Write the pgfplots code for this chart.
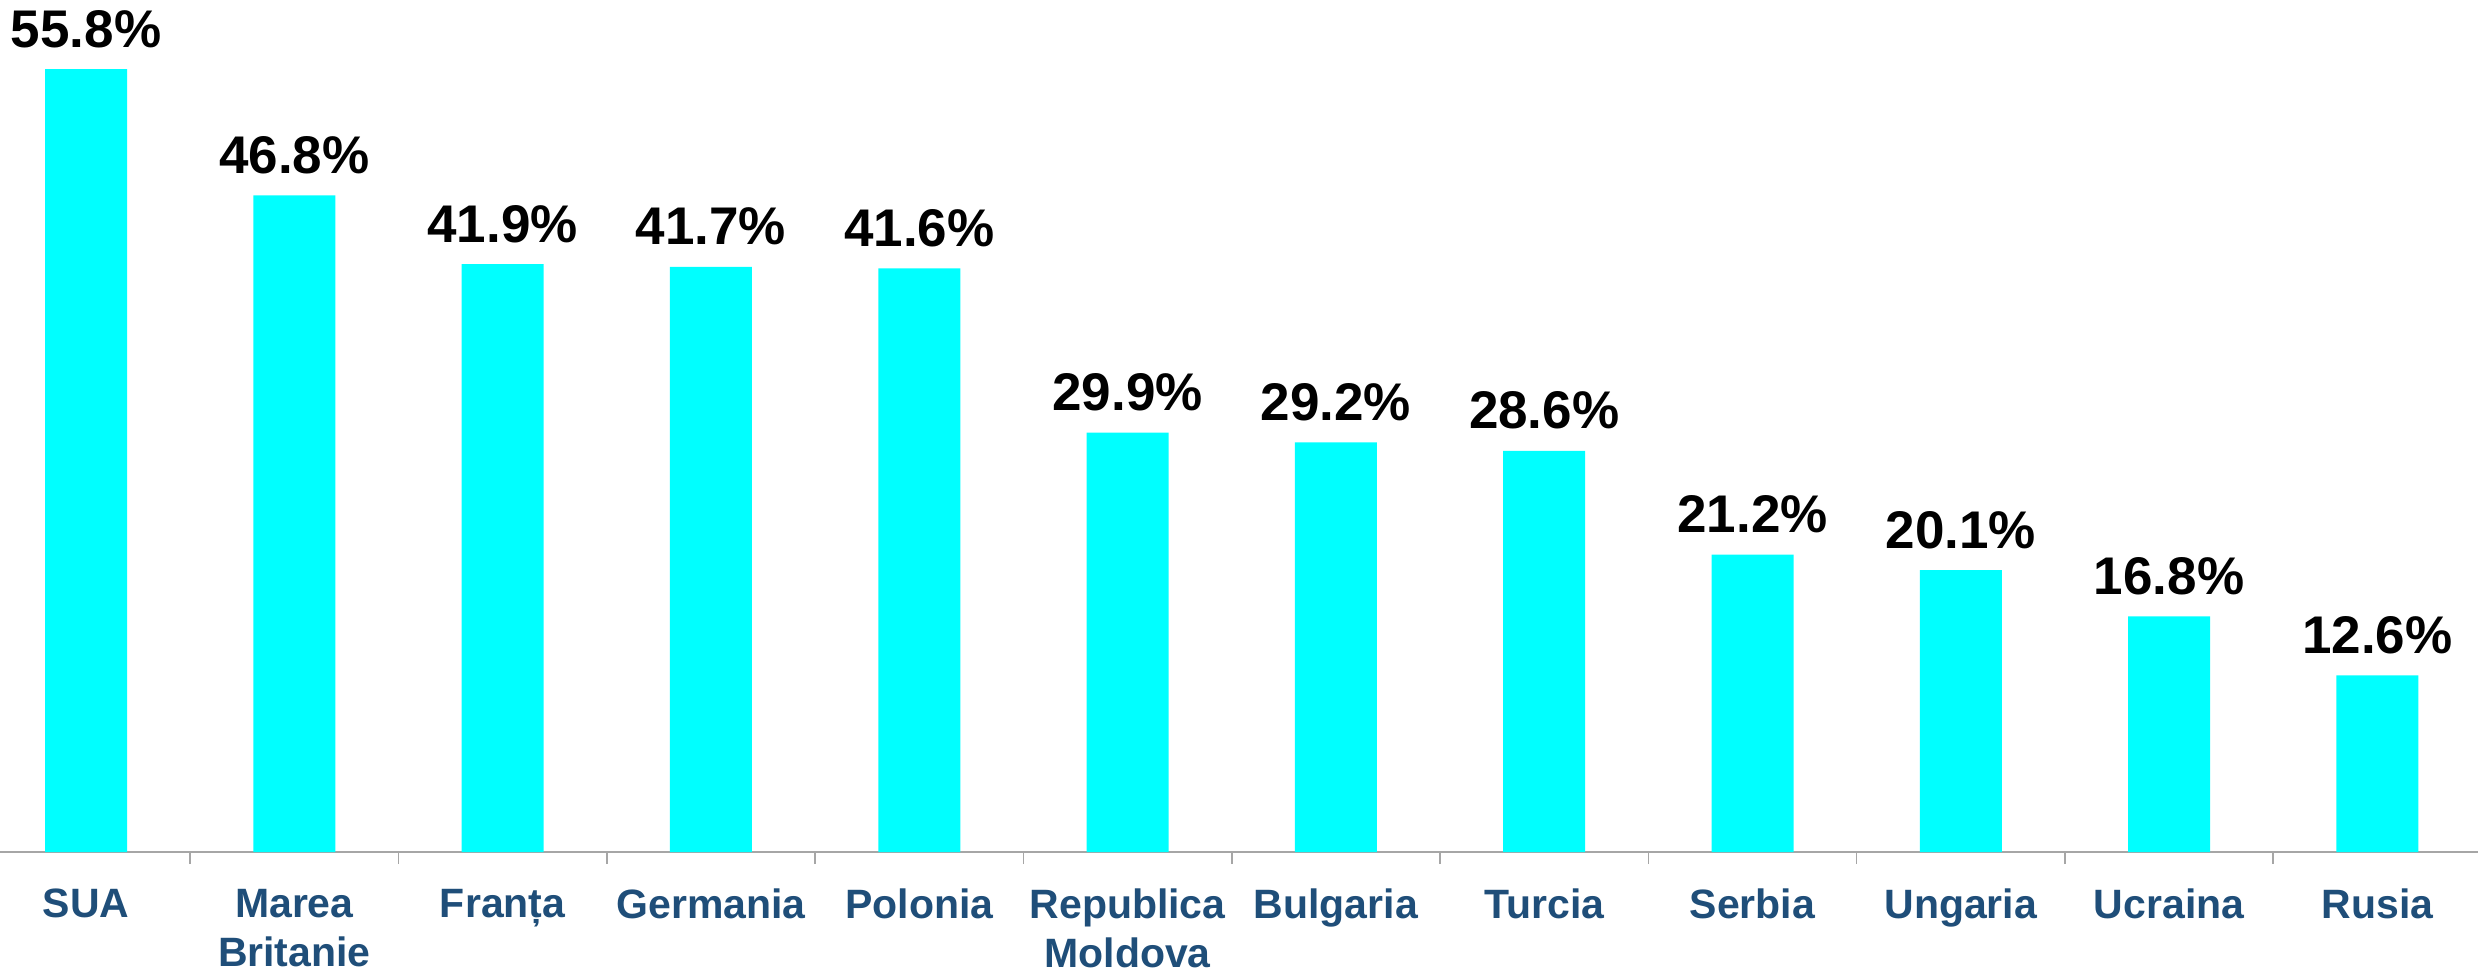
\documentclass[border=0pt]{standalone}
\usepackage{fontspec}
\setmainfont{Liberation Sans}
\usepackage{pgfplots}
\pgfplotsset{compat=1.18}
\definecolor{barcyan}{HTML}{00FFFF}
\definecolor{labblue}{HTML}{1F4E79}
\definecolor{axgray}{HTML}{A6A6A6}
\begin{document}
\begin{tikzpicture}
\begin{axis}[name=ax,
  scale only axis, width=619.5pt, height=213pt,
  xmin=-0.413, xmax=11.483, ymin=0, ymax=60.73,
  axis x line*=bottom, axis y line=none,
  x axis line style={axgray, line width=0.5pt},
  ybar, bar width=20.5pt,
  xtick={0,...,11},
  xticklabels={SUA, {Marea\\Britanie}, Franța, Germania, Polonia, {Republica\\Moldova}, Bulgaria, Turcia, Serbia, Ungaria, Ucraina, Rusia},
  major tick length=0pt,
  extra x ticks={0.5,1.5,...,10.5},
  extra x tick labels={},
  extra x tick style={tick align=outside, major tick length=3pt, tick style={axgray, line width=0.4pt}},
  xticklabel style={font=\bfseries\fontsize{10.25}{12.25}\selectfont, text=labblue, align=center, anchor=north, inner sep=0pt, yshift=-9pt},
  nodes near coords={\pgfmathprintnumber[fixed,fixed zerofill,precision=1]{\pgfplotspointmeta}\%},
  nodes near coords style={font=\bfseries\fontsize{13.25}{15}\selectfont, anchor=base, yshift=5.5pt, inner sep=0pt, text=black},
  /pgf/number format/assume math mode=true,
  clip=false,
]
\addplot[fill=barcyan, draw=none] coordinates {
  (0,55.8) (1,46.8) (2,41.9) (3,41.7) (4,41.6) (5,29.9)
  (6,29.2) (7,28.6) (8,21.2) (9,20.1) (10,16.8) (11,12.6)
};
\end{axis}
\pgfresetboundingbox
\useasboundingbox ([yshift=-29.75pt]ax.south west) rectangle (ax.north east);
\end{tikzpicture}
\end{document}
